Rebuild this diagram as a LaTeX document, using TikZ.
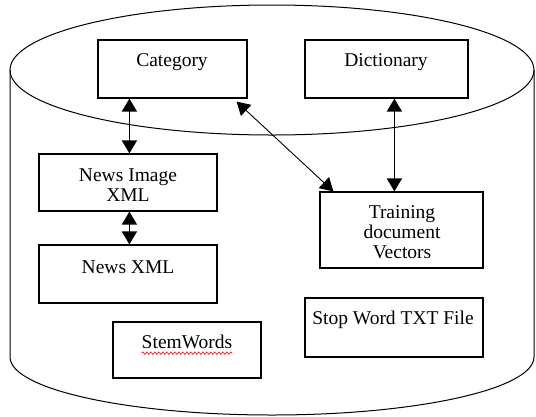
\documentclass[tikz,border=0pt]{standalone}
\usepackage{fontspec}
\setmainfont{Liberation Serif}
\usetikzlibrary{arrows.meta,decorations.pathmorphing}
\begin{document}
\begin{tikzpicture}[x=1pt,y=-1pt,
  box/.style={draw,line width=1.2pt,rectangle,inner sep=0pt},
  lbl/.style={font=\fontsize{19.5}{20}\selectfont,align=center,inner sep=0pt},
  dbl/.style={line width=1.6pt,{Triangle[width=15pt,length=13pt]}-{Triangle[width=15pt,length=13pt]}},
  dbldiag/.style={line width=0.9pt,{Triangle[width=15pt,length=13pt]}-{Triangle[width=15pt,length=13pt]}},
  drum/.style={line width=1pt}]
\useasboundingbox (0,0) rectangle (536,416);
% storage cylinder
\draw[drum] (272,70) ellipse [x radius=262, y radius=65];
\draw[drum] (10,70) -- (10,357) arc[start angle=180,end angle=0,x radius=262,y radius=58] -- (534,70);
% boxes
\node[box,minimum width=149,minimum height=58] (cat) at (172.5,69) {};
\node[box,minimum width=163,minimum height=58] (dict) at (386.5,69) {};
\node[box,minimum width=178,minimum height=57] (nix) at (128,182.5) {};
\node[box,minimum width=178,minimum height=58] (nx) at (128,274) {};
\node[box,minimum width=163,minimum height=76] (train) at (401.5,230) {};
\node[box,minimum width=148,minimum height=56] (stem) at (187,350) {};
\node[box,minimum width=178,minimum height=59] (stop) at (394,327.5) {};
% labels
\node[lbl] (catl) at (172,62) {Category};
\node[lbl] (dictl) at (386,62) {Dictionary};
\node[lbl] (nixl) at (128,185) {News Image\\XML};
\node[lbl] (nxl) at (128,267) {News XML};
\node[lbl] (trainl) at (402,232) {Training\\document\\Vectors};
\node[lbl] (steml) at (187,342) {StemWords};
\node[lbl] (stopl) at (393,320) {Stop Word TXT File};
% spell-check underline
\draw[red,line width=0.6pt,decorate,
  decoration={snake,amplitude=1.2pt,segment length=4pt}]
  ([yshift=-4]steml.south west) -- ([yshift=-4]steml.south east);
% connectors
\draw[dbl] ([xshift=32]cat.south west) -- ([xshift=32]cat.south west |- nix.north);
\draw[dbl] ([xshift=91]nix.south west) -- ([xshift=91]nix.south west |- nx.north);
\draw[dbl] ([xshift=90]dict.south west) -- ([xshift=90]dict.south west |- train.north);
\draw[dbldiag] ([shift={(-11,3)}]cat.south east) -- ([xshift=14]train.north west);
\end{tikzpicture}
\end{document}
